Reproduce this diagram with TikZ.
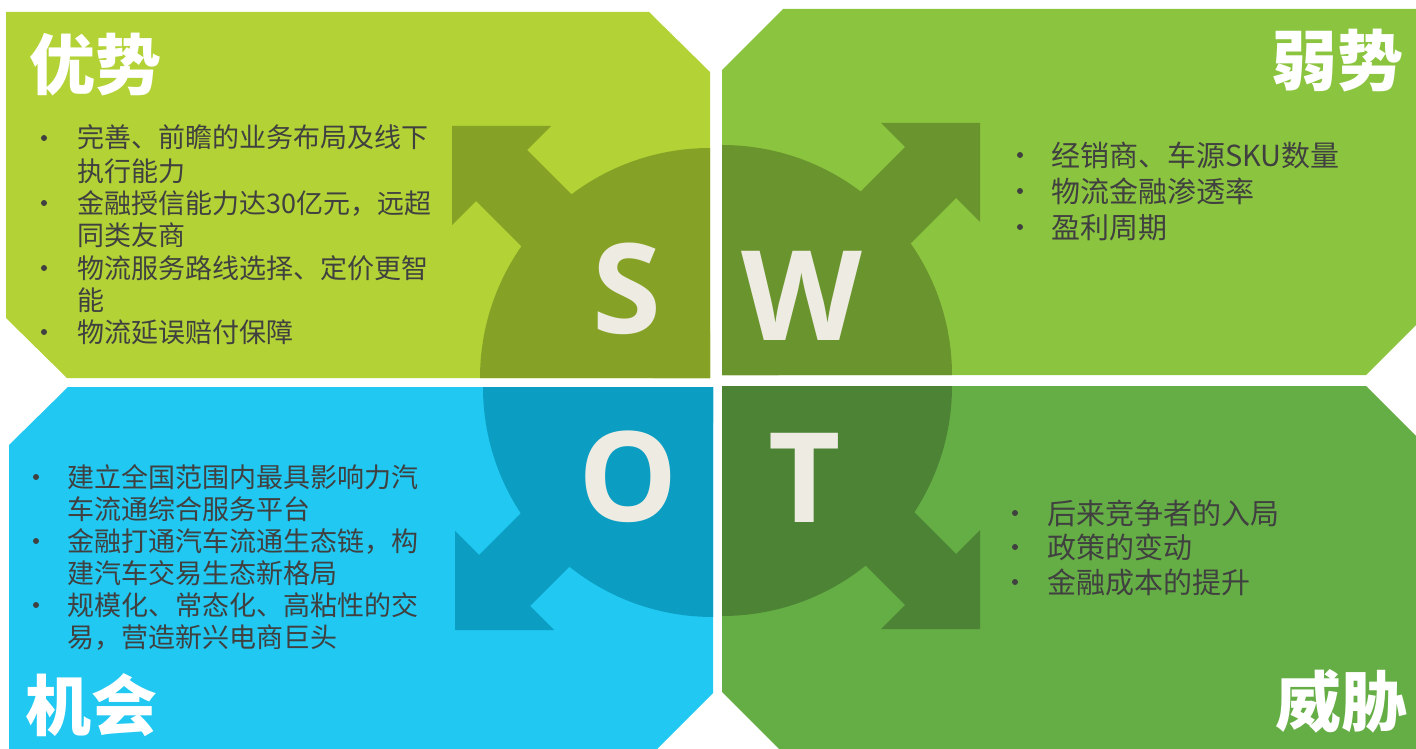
\documentclass[tikz,border=0pt]{standalone}
\usepackage{fontspec}
\setmainfont{Noto Sans CJK SC}
\newfontfamily\swotfont{Open Sans}
\definecolor{sLight}{HTML}{B2D235}
\definecolor{sDark}{HTML}{86A226}
\definecolor{wLight}{HTML}{8BC53F}
\definecolor{wDark}{HTML}{6A952E}
\definecolor{oLight}{HTML}{20C8F2}
\definecolor{oDark}{HTML}{0B9DC2}
\definecolor{tLight}{HTML}{65AE45}
\definecolor{tDark}{HTML}{4D8335}
\definecolor{letterwhite}{HTML}{EEEBE2}
\definecolor{textgray}{HTML}{404040}
\tikzset{
    panel/.style={% light background of one quarter
        fill=#1, draw=none},
    quarter/.style={% darker circle part and its arrow
        fill=#1, draw=none},
    title/.style={% white heading in a corner
        font=\fontsize{66}{66}\selectfont\bfseries, text=white, inner sep=0pt},
    letter/.style={% the big S, W, O, T
        font=\swotfont\fontsize{125}{125}\selectfont\bfseries, text=letterwhite,
        inner sep=0pt, anchor=base},
    itemtext/.style={% one line of a bullet list
        font=\fontsize{#1}{#1}\selectfont, text=textgray, inner sep=0pt, anchor=base west},
    dot/.style={% bullet
        circle, fill=textgray, inner sep=0pt, minimum size=6pt}}

\begin{document}
\begin{tikzpicture}[x=1pt, y=-1pt]
\useasboundingbox (0,0) rectangle (1416,749);
\clip (0,0) rectangle (1416,749);
% the four panels
\fill[panel=sLight] (6,12) -- (649,12) -- (710,72) -- (710,378) -- (67,378) -- (6,318) -- cycle;
\fill[panel=wLight] (722,70) -- (783,9) -- (1430,9) -- (1430,311) -- (1366,375) -- (722,375) -- cycle;
\fill[panel=oLight] (9,445) -- (68,387) -- (713,387) -- (713,693) -- (650,756) -- (9,756) -- cycle;
\fill[panel=tLight] (722,386) -- (1366,386) -- (1430,450) -- (1430,756) -- (786,756) -- (722,692) -- cycle;
% quarter circles with arrows
\begin{scope}[shift={(710,378)}, xscale=-1, yscale=-1]
\fill[quarter=sDark] (0,0) -- (230,0) arc (0:90:230) -- cycle;
\fill[quarter=sDark] (258,252) -- (159,252) -- (183,228) -- (0,45) -- (0,0) -- (57,0) -- (234,177) -- (258,153) -- cycle;
\end{scope}
\begin{scope}[shift={(722,375)}, yscale=-1]
\fill[quarter=wDark] (0,0) -- (230,0) arc (0:90:230) -- cycle;
\fill[quarter=wDark] (258,252) -- (159,252) -- (183,228) -- (0,45) -- (0,0) -- (57,0) -- (234,177) -- (258,153) -- cycle;
\end{scope}
\begin{scope}[shift={(713,387)}, xscale=-1]
\fill[quarter=oDark] (0,0) -- (230,0) arc (0:90:230) -- cycle;
\fill[quarter=oDark] (258,243) -- (159,243) -- (183,219) -- (0,36) -- (0,0) -- (66,0) -- (234,168) -- (258,144) -- cycle;
\end{scope}
\begin{scope}[shift={(722,386)}]
\fill[quarter=tDark] (0,0) -- (230,0) arc (0:90:230) -- cycle;
\fill[quarter=tDark] (258,243) -- (159,243) -- (183,219) -- (0,36) -- (0,0) -- (66,0) -- (234,168) -- (258,144) -- cycle;
\end{scope}
% letters
\node[letter] at (627,333) (s) {S};
\node[letter] at (802,340) (w) {W};
\node[letter] at (628,521) (o) {O};
\node[letter] at (805,522) (t) {T};
% headings
\node[title, anchor=base west] at (29,90) (strength) {优势};
\node[title, anchor=base east] at (1404,86) (weakness) {弱势};
\node[title, anchor=base west] at (25,730) (chance) {机会};
\node[title, anchor=base east] at (1408,726) (threat) {威胁};
% strengths
\node[dot] at (44,138) (sdot1) {};
\node[dot] at (44,203) (sdot2) {};
\node[dot] at (44,268) (sdot3) {};
\node[dot] at (44,332) (sdot4) {};
\node[itemtext=27] at (77,148) (s1) {完善、前瞻的业务布局及线下};
\node[itemtext=27] at (77,181) (s2) {执行能力};
\node[itemtext=27] at (77,213) (s3) {金融授信能力达30亿元，远超};
\node[itemtext=27] at (77,245) (s4) {同类友商};
\node[itemtext=27] at (77,278) (s5) {物流服务路线选择、定价更智};
\node[itemtext=27] at (77,310) (s6) {能};
\node[itemtext=27] at (77,342) (s7) {物流延误赔付保障};
% weaknesses
\node[dot] at (1020,155) (wdot1) {};
\node[dot] at (1020,191) (wdot2) {};
\node[dot] at (1020,227) (wdot3) {};
\node[itemtext=29] at (1051,166) (w1) {经销商、车源SKU数量};
\node[itemtext=29] at (1051,202) (w2) {物流金融渗透率};
\node[itemtext=29] at (1051,238) (w3) {盈利周期};
% opportunities
\node[dot] at (36,477) (odot1) {};
\node[dot] at (36,541) (odot2) {};
\node[dot] at (36,605) (odot3) {};
\node[itemtext=27] at (67,487) (o1) {建立全国范围内最具影响力汽};
\node[itemtext=27] at (67,519) (o2) {车流通综合服务平台};
\node[itemtext=27] at (67,551) (o3) {金融打通汽车流通生态链，构};
\node[itemtext=27] at (67,583) (o4) {建汽车交易生态新格局};
\node[itemtext=27] at (67,615) (o5) {规模化、常态化、高粘性的交};
\node[itemtext=27] at (67,647) (o6) {易，营造新兴电商巨头};
% threats
\node[dot] at (1015,513) (tdot1) {};
\node[dot] at (1015,547) (tdot2) {};
\node[dot] at (1015,582) (tdot3) {};
\node[itemtext=29] at (1047,524) (t1) {后来竞争者的入局};
\node[itemtext=29] at (1047,558) (t2) {政策的变动};
\node[itemtext=29] at (1047,593) (t3) {金融成本的提升};
\end{tikzpicture}
\end{document}
